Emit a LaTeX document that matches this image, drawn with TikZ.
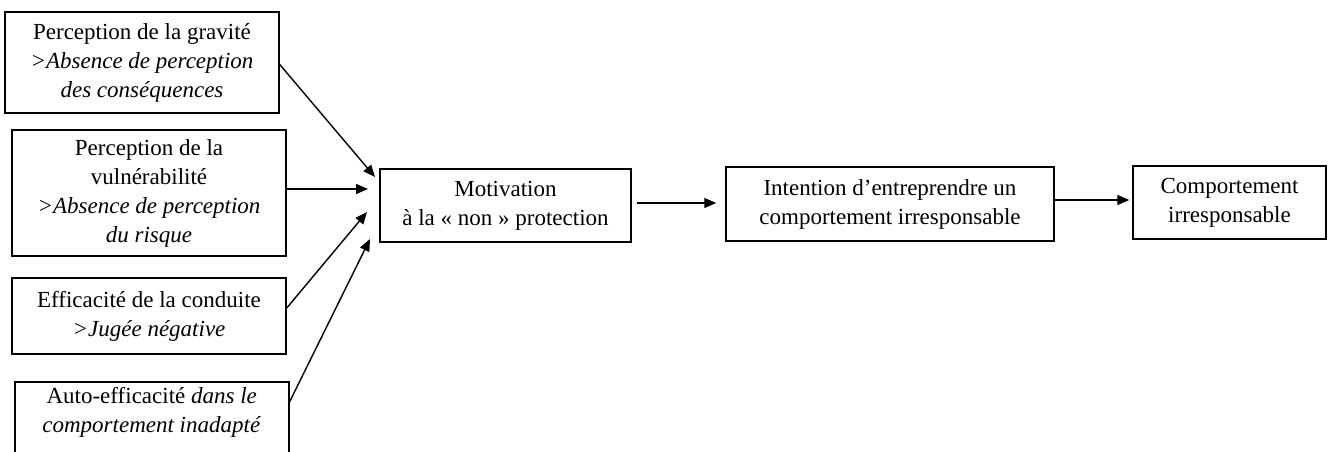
\documentclass[tikz,border=0pt]{standalone}
\usepackage{fontspec}
\setmainfont{Liberation Serif}
\usetikzlibrary{arrows.meta}
\tikzset{
  box/.style={draw, line width=1.5pt, align=center, inner sep=4pt,
    font=\fontsize{23}{29}\selectfont},
  conn/.style={line width=1.4pt, -{Triangle[length=12pt,width=10pt]}}
}
\begin{document}
\begin{tikzpicture}[x=1pt,y=-1pt]
\useasboundingbox (0,0) rectangle (1331,452);
\clip (0,0) rectangle (1331,452);
\node[box, minimum width=274, minimum height=101] (b1) at (142,62.5)
  {Perception de la gravité\\ \textit{>Absence de perception}\\ \textit{des conséquences}};
\node[box, minimum width=274, minimum height=126] (b2) at (149,193)
  {Perception de la\\ vulnérabilité\\ \textit{>Absence de perception}\\ \textit{du risque}};
\node[box, minimum width=274, minimum height=76] (b3) at (149,316)
  {Efficacité de la conduite\\ \textit{>Jugée négative}};
\node[box, minimum width=274, anchor=north west, inner ysep=6pt] (b4) at (14,381)
  {Auto-efficacité \textit{dans le}\\ \textit{comportement inadapté}\rule[-40pt]{0pt}{40pt}};
\node[box, minimum width=251, minimum height=73] (mot) at (505.5,205.5)
  {Motivation\\ à la « non » protection};
\node[box, minimum width=328, minimum height=74] (int) at (890,204)
  {Intention d’entreprendre un\\ comportement irresponsable};
\node[box, minimum width=193, minimum height=73] (comp) at (1229.5,202.5)
  {Comportement\\ irresponsable};
\coordinate (e1) at (375,177);
\coordinate (e2) at (368,189);
\coordinate (e3) at (367,212);
\coordinate (e4) at (370,239);
\draw[conn] ([yshift=-2pt]b1.east) -- (e1);
\draw[conn] ([yshift=4pt]b2.east) -- (e2);
\draw[conn] ([yshift=8pt]b3.east) -- (e3);
\draw[conn] (b4.north east) ++(0,21) -- (e4);
\draw[conn, shorten <=5pt, shorten >=9pt] ([yshift=2.5pt]mot.east) -- ([yshift=1pt]int.west);
\draw[conn, shorten >=3pt] ([yshift=4pt]int.east) -- ([yshift=2.5pt]comp.west);
\end{tikzpicture}
\end{document}
